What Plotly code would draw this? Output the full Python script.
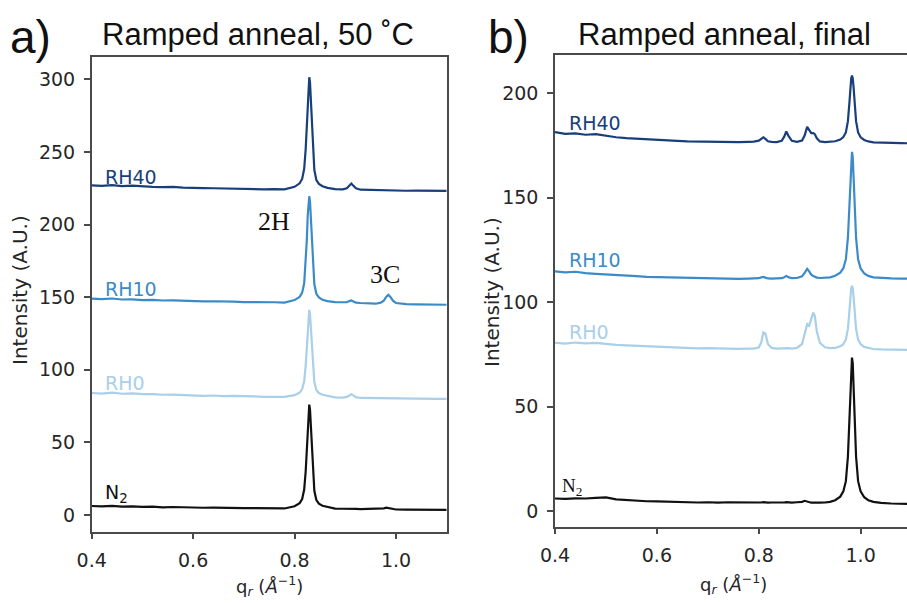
import plotly.graph_objects as go

W, H = 907, 603

# ---------------- data: panel a (Ramped anneal, 50 °C) ----------------
q_a = [0.40, 0.42, 0.44, 0.46, 0.48, 0.50, 0.52, 0.54, 0.56, 0.58,
       0.60, 0.62, 0.64, 0.66, 0.68, 0.70, 0.72, 0.74, 0.76, 0.78,
       0.800, 0.810, 0.815, 0.819, 0.822, 0.824, 0.826, 0.8275, 0.829, 0.8305,
       0.832, 0.834, 0.836, 0.839, 0.843, 0.848, 0.855, 0.865,
       0.880, 0.895, 0.903, 0.908, 0.912, 0.916, 0.921, 0.930,
       0.945, 0.960, 0.970, 0.976, 0.981, 0.985, 0.989, 0.994, 1.000,
       1.02, 1.04, 1.06, 1.08, 1.10]

rh40_a = [227.0, 226.6, 227.2, 226.5, 226.8, 226.2, 226.0, 225.8, 225.9, 225.4,
          225.5, 225.1, 225.0, 224.8, 224.9, 224.5, 224.6, 224.3, 224.4, 224.2,
          226.0, 228.4, 231.4, 238.4, 252.2, 268.4, 287.6, 297.7, 301.5, 297.7,
          286.1, 266.9, 250.7, 237.6, 230.7, 228.0, 226.4, 225.3,
          224.4, 224.2, 225.0, 227.0, 228.3, 226.8, 225.0, 224.0,
          223.8, 223.9, 223.6, 223.7, 223.5, 223.6, 223.5, 223.4, 223.5,
          223.3, 223.4, 223.2, 223.3, 223.2]

rh10_a = [149.0, 148.6, 149.1, 148.4, 148.5, 148.0, 148.2, 147.7, 147.8, 147.4,
          147.5, 147.1, 147.2, 146.8, 146.9, 146.6, 146.7, 146.4, 146.5, 146.3,
          148.0, 150.2, 153.1, 159.6, 172.8, 188.1, 206.4, 215.9, 219.5, 215.9,
          204.9, 186.7, 171.3, 158.9, 152.3, 149.8, 148.2, 147.3,
          146.6, 146.2, 146.5, 147.3, 147.8, 147.0, 146.3, 146.0,
          145.6, 145.5, 146.2, 147.6, 150.3, 151.6, 150.2, 147.6, 146.0,
          145.2, 145.1, 144.9, 145.0, 144.8]

rh0_a = [84.0, 83.6, 84.3, 83.5, 83.8, 83.2, 83.3, 82.8, 82.9, 82.5,
         82.6, 82.1, 82.3, 81.8, 82.0, 81.6, 81.7, 81.4, 81.5, 81.3,
         82.5, 84.3, 86.7, 92.1, 102.9, 115.5, 130.5, 138.3, 141.3, 138.3,
         129.3, 114.3, 101.7, 91.5, 86.1, 84.0, 82.8, 82.0,
         81.0, 80.8, 81.3, 82.3, 83.2, 82.4, 81.2, 80.6,
         80.5, 80.4, 80.3, 80.3, 80.2, 80.3, 80.2, 80.1, 80.2,
         80.1, 80.0, 80.1, 80.0, 80.0]

n2_a = [6.2, 5.9, 6.3, 5.7, 6.0, 5.6, 5.8, 5.3, 5.5, 5.2,
        5.3, 5.0, 5.1, 4.8, 4.9, 4.7, 4.8, 4.6, 4.7, 4.5,
        6.0, 8.2, 11.0, 17.5, 30.3, 45.3, 63.1, 72.4, 76.0, 72.4,
        61.7, 43.9, 28.9, 16.7, 10.3, 7.8, 6.4, 5.5,
        4.4, 4.3, 4.4, 4.2, 4.3, 4.1, 4.2, 4.0,
        4.1, 4.0, 4.2, 4.6, 5.0, 4.7, 4.2, 3.9, 3.8,
        3.7, 3.6, 3.6, 3.5, 3.5]

# ---------------- data: panel b (Ramped anneal, final) ----------------
q_b = [0.40, 0.42, 0.44, 0.46, 0.48, 0.50, 0.52, 0.54, 0.56, 0.58,
       0.60, 0.62, 0.64, 0.66, 0.68, 0.70, 0.72, 0.74, 0.76, 0.78,
       0.790, 0.800, 0.805, 0.809, 0.813, 0.818, 0.825, 0.835, 0.845, 0.850,
       0.854, 0.858, 0.865, 0.875, 0.885, 0.890, 0.895, 0.899, 0.903, 0.907,
       0.910, 0.914, 0.920, 0.930, 0.940,
       0.950, 0.960, 0.966, 0.971, 0.975, 0.978, 0.980, 0.9815, 0.983, 0.9845,
       0.986, 0.988, 0.991, 0.995, 1.000, 1.007, 1.015, 1.025,
       1.040, 1.060, 1.080, 1.100]

rh40_b = [181.5, 180.6, 180.9, 180.2, 180.5, 179.6, 179.0, 178.6, 178.4, 178.0,
          177.8, 177.5, 177.3, 177.0, 176.9, 176.8, 176.7, 176.9, 176.7, 176.8,
          176.9, 177.4, 178.4, 179.0, 178.2, 177.1, 176.8, 176.7, 177.3, 179.3,
          181.8, 179.8, 177.3, 176.8, 177.4, 179.8, 184.0, 182.3, 181.0, 181.0,
          180.5, 178.5, 177.0, 176.7, 176.8,
          177.1, 177.9, 179.1, 181.3, 186.7, 195.7, 203.4, 207.2, 208.5, 207.2,
          203.4, 195.7, 186.7, 181.3, 179.0, 177.7, 177.0, 176.6,
          176.4, 176.3, 176.2, 176.1]

rh10_b = [114.8, 114.3, 114.6, 113.9, 113.6, 113.4, 112.9, 112.7, 112.5, 112.1,
          112.0, 111.8, 111.7, 111.5, 111.4, 111.3, 111.2, 111.3, 111.2, 111.3,
          111.3, 111.5, 111.9, 112.1, 111.8, 111.4, 111.3, 111.3, 111.5, 112.0,
          112.6, 112.0, 111.5, 111.6, 112.4, 114.0, 116.0, 114.8, 113.2, 112.6,
          112.2, 111.8, 111.6, 111.6, 111.9,
          112.7, 114.2, 116.3, 120.6, 130.9, 147.8, 162.3, 169.6, 172.0, 169.6,
          162.3, 147.8, 130.9, 120.6, 116.2, 113.8, 112.6, 111.9,
          111.6, 111.4, 111.3, 111.3]

rh0_b = [80.6, 80.2, 80.7, 80.3, 80.5, 79.9, 79.6, 79.3, 79.1, 78.9,
         78.6, 78.5, 78.2, 78.0, 77.9, 78.0, 77.8, 77.9, 77.7, 77.8,
         77.8, 78.3, 80.8, 85.5, 85.0, 80.0, 78.1, 77.8, 77.9, 78.0,
         78.2, 78.0, 77.8, 78.1, 80.0, 84.5, 89.5, 88.8, 91.5, 95.0,
         93.5, 86.0, 80.5, 78.4, 78.0,
         78.1, 78.9, 79.9, 82.1, 87.2, 95.7, 103.0, 106.7, 107.9, 106.7,
         103.0, 95.7, 87.2, 82.1, 79.9, 78.6, 78.0, 77.6,
         77.4, 77.3, 77.2, 77.2]

n2_b = [6.0, 5.8, 6.1, 6.0, 6.3, 6.5, 5.6, 5.2, 5.0, 4.7,
        4.6, 4.4, 4.3, 4.2, 4.1, 4.2, 4.0, 4.2, 4.1, 4.2,
        4.1, 4.2, 4.1, 4.3, 4.1, 4.0, 4.1, 4.0, 4.2, 4.1,
        4.3, 4.1, 4.0, 4.2, 4.4, 4.9, 4.5, 4.2, 4.0, 4.1,
        4.0, 4.1, 4.0, 4.1, 4.4,
        5.2, 6.9, 9.4, 14.3, 26.1, 45.6, 62.3, 70.7, 73.5, 70.7,
        62.3, 45.6, 26.1, 14.3, 9.4, 6.6, 5.2, 4.4,
        3.9, 3.6, 3.5, 3.4]

x_ticks = [0.4, 0.6, 0.8, 1.0]
x_ticktext = ["0.4", "0.6", "0.8", "1.0"]
y_ticks_a = [0, 50, 100, 150, 200, 250, 300]
y_ticks_b = [0, 50, 100, 150, 200]

series_names = ["N<sub>2</sub>", "RH0", "RH10", "RH40"]
colors = ["#111111", "#a9cfe9", "#3b8bc9", "#183e7c"]

# ---------------- figure ----------------
def px(x):
    return x / W

def py(y):
    return 1 - y / H

fig = go.Figure()
for ys, c in zip([n2_a, rh0_a, rh10_a, rh40_a], colors):
    fig.add_trace(go.Scatter(x=q_a, y=ys, mode="lines", line=dict(color=c, width=2.2),
                             xaxis="x", yaxis="y", showlegend=False, hoverinfo="skip"))
for ys, c in zip([n2_b, rh0_b, rh10_b, rh40_b], colors):
    fig.add_trace(go.Scatter(x=q_b, y=ys, mode="lines", line=dict(color=c, width=2.2),
                             xaxis="x2", yaxis="y2", showlegend=False, hoverinfo="skip"))

tickfont = dict(family="DejaVu Sans", size=19, color="#262626")
axcommon = dict(showgrid=False, zeroline=False, showline=True, linecolor="#4a4a4a",
                linewidth=1.5, ticks="outside", ticklen=6, tickwidth=1.5,
                tickcolor="#4a4a4a", tickfont=tickfont, ticklabelstandoff=5,
                automargin=False)

fig.update_layout(
    width=W, height=H, margin=dict(l=0, r=0, t=0, b=0, autoexpand=False),
    paper_bgcolor="white", plot_bgcolor="white",
    xaxis=dict(domain=[px(91.7), px(446.7)], range=[0.4, 1.1], anchor="y",
               tickvals=x_ticks, ticktext=x_ticktext, mirror=True, **axcommon),
    yaxis=dict(domain=[py(531.7), py(57)], range=[-11.5, 315.4], anchor="x",
               tickvals=y_ticks_a, mirror=True, **axcommon),
    xaxis2=dict(domain=[px(555), 1.0], range=[0.4, 1.091], anchor="y2",
                tickvals=x_ticks, ticktext=x_ticktext, mirror=True, **axcommon),
    yaxis2=dict(domain=[py(526.7), py(55)], range=[-7.5, 218.4], anchor="x2",
                tickvals=y_ticks_b, mirror=False, **axcommon),
)

ann = []
sans = "Liberation Sans, Arial, sans-serif"
serif = "Liberation Serif, Times New Roman, serif"

# panel letters and titles
ann.append(dict(text="a)", x=px(8), y=py(37), xref="paper", yref="paper",
                xanchor="left", yanchor="middle", showarrow=False,
                font=dict(family=sans, size=46, color="#111111")))
ann.append(dict(text="Ramped anneal, 50 ˚C", x=px(258), y=py(35), xref="paper", yref="paper",
                xanchor="center", yanchor="middle", showarrow=False,
                font=dict(family=sans, size=31, color="#111111")))
ann.append(dict(text="b)", x=px(486), y=py(37), xref="paper", yref="paper",
                xanchor="left", yanchor="middle", showarrow=False,
                font=dict(family=sans, size=46, color="#111111")))
ann.append(dict(text="Ramped anneal, final", x=px(724), y=py(35), xref="paper", yref="paper",
                xanchor="center", yanchor="middle", showarrow=False,
                font=dict(family=sans, size=31, color="#111111")))

# axis titles
for xc, yc in [(20, 290), (492, 292)]:
    ann.append(dict(text="Intensity (A.U.)", x=px(xc), y=py(yc), xref="paper", yref="paper",
                    xanchor="center", yanchor="middle", textangle=-90, showarrow=False,
                    font=dict(family="DejaVu Sans", size=20, color="#262626")))
for xc, yc in [(269, 586), (733, 584)]:
    ann.append(dict(text="q<sub><i>r</i></sub> (<i>Å</i><sup>−1</sup>)", x=px(xc), y=py(yc),
                    xref="paper", yref="paper", xanchor="center", yanchor="middle",
                    showarrow=False, font=dict(family="DejaVu Sans", size=18, color="#262626")))

# series labels, panel a
lab_a = [(0.422, 14.5), (0.422, 91.2), (0.422, 155.4), (0.422, 232.7)]
for name, c, (lx, ly) in zip(series_names, colors, lab_a):
    ann.append(dict(text=name, x=lx, y=ly, xref="x", yref="y", xanchor="left",
                    yanchor="middle", showarrow=False,
                    font=dict(family="DejaVu Sans", size=19, color=c)))
# series labels, panel b
lab_b = [(0.41, 11.5), (0.424, 85.9), (0.424, 120.4), (0.424, 185.6)]
for name, c, (lx, ly) in zip(series_names, colors, lab_b):
    fam = serif if name.startswith("N") else "DejaVu Sans"
    ann.append(dict(text=name, x=lx, y=ly, xref="x2", yref="y2", xanchor="left",
                    yanchor="middle", showarrow=False,
                    font=dict(family=fam, size=19, color=c)))

# phase annotations
ann.append(dict(text="2H", x=0.759, y=202.3, xref="x", yref="y", xanchor="center",
                yanchor="middle", showarrow=False, font=dict(family=serif, size=26, color="#111111")))
ann.append(dict(text="3C", x=0.979, y=165.7, xref="x", yref="y", xanchor="center",
                yanchor="middle", showarrow=False, font=dict(family=serif, size=26, color="#111111")))

fig.update_layout(annotations=ann)
fig.write_html("out.html")
